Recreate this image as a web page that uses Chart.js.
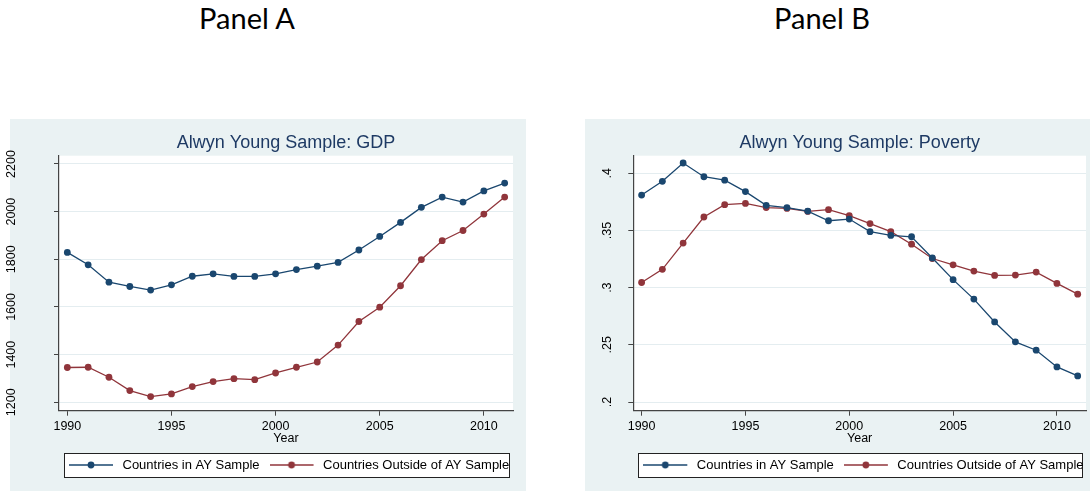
<!DOCTYPE html>
<html>
<head>
<meta charset="utf-8">
<script src="https://cdn.jsdelivr.net/npm/chart.js@4.4.1/dist/chart.umd.min.js"></script>
<style>
  body { margin: 0; width: 1090px; height: 491px; background: #fff; position: relative; overflow: hidden; }
  .panel-label { position: absolute; top: 3px; width: 200px; text-align: center;
    font-family: Lato, "Open Sans", sans-serif; font-size: 29px; line-height: 29px; color: #000; }
  .bg { position: absolute; top: 119px; height: 372px; background: #eaf2f3; }
  canvas { position: absolute; top: 119px; }
</style>
</head>
<body>
<div class="panel-label" style="left:147px">Panel A</div>
<div class="panel-label" style="left:722px">Panel B</div>
<div class="bg" style="left:10px;width:516px"></div>
<div class="bg" style="left:585px;width:505px"></div>
<canvas id="gdp" width="530" height="372" style="left:0"></canvas>
<canvas id="poverty" width="530" height="372" style="left:560px"></canvas>
<script>
const years = [1990, 1991, 1992, 1993, 1994, 1995, 1996, 1997, 1998, 1999, 2000,
  2001, 2002, 2003, 2004, 2005, 2006, 2007, 2008, 2009, 2010, 2011];

// Panel A: GDP
const gdpInSample = [1829, 1777, 1704, 1686, 1671, 1693, 1729, 1739, 1728, 1728, 1739,
  1757, 1771, 1787, 1839, 1896, 1955, 2018, 2061, 2040, 2087, 2120];
const gdpOutside = [1346, 1347, 1305, 1249, 1224, 1235, 1266, 1287, 1299, 1295, 1323,
  1347, 1369, 1440, 1539, 1599, 1689, 1799, 1878, 1921, 1990, 2061];

// Panel B: poverty
const povertyInSample = [0.381, 0.393, 0.409, 0.397, 0.394, 0.384, 0.372, 0.370, 0.367, 0.3585, 0.360,
  0.349, 0.3457, 0.3445, 0.326, 0.307, 0.290, 0.270, 0.2526, 0.2453, 0.2307, 0.2228];
const povertyOutside = [0.3045, 0.316, 0.339, 0.3618, 0.3726, 0.3737, 0.370, 0.3693, 0.3667, 0.3682, 0.363,
  0.356, 0.349, 0.338, 0.3255, 0.320, 0.3145, 0.3107, 0.311, 0.3136, 0.3037, 0.2943];

const seriesNames = ["Countries in AY Sample", "Countries Outside of AY Sample"];
const seriesColors = ["#1a476f", "#90353b"];

Chart.defaults.font.family = "'Liberation Sans', Arial, sans-serif";
Chart.defaults.color = "#000";

// line-with-dot symbol for the legend keys
const legendIcon = (color) => {
  const c = document.createElement("canvas");
  c.width = 47;
  c.height = 10;
  const ctx = c.getContext("2d");
  ctx.strokeStyle = color;
  ctx.lineWidth = 1.3;
  ctx.beginPath();
  ctx.moveTo(0, 5);
  ctx.lineTo(44, 5);
  ctx.stroke();
  ctx.fillStyle = color;
  ctx.beginPath();
  ctx.arc(22, 5, 3.4, 0, Math.PI * 2);
  ctx.fill();
  return c;
};
const icons = seriesColors.map(legendIcon);

// white plot region and the framed legend
const frame = {
  id: "frame",
  afterLayout(chart) {
    // Stata starts the keys at the plot's left edge; keep the full width so nothing wraps
    const lg = chart.legend;
    lg.left = chart.chartArea.left;
    lg.right = lg.left + lg.width;
  },
  beforeDraw(chart) {
    const { ctx, chartArea: a, legend } = chart;
    ctx.save();
    ctx.fillStyle = "#fff";
    ctx.fillRect(a.left, a.top, a.right - a.left, a.bottom - a.top);
    const cy = legend.top + 10 + 6.5;
    const x0 = Math.round(a.left + 4.5) + 0.5;
    const x1 = Math.round(a.right - 4.5) + 0.5;
    const y0 = Math.round(cy - 12) + 0.5;
    const y1 = Math.round(cy + 12) + 0.5;
    ctx.fillRect(x0, y0, x1 - x0, y1 - y0);
    ctx.strokeStyle = "#222";
    ctx.lineWidth = 1;
    ctx.strokeRect(x0, y0, x1 - x0, y1 - y0);
    ctx.restore();
  },
};

const makeChart = (id, title, inSample, outside, y) => new Chart(document.getElementById(id), {
  type: "line",
  data: {
    datasets: [inSample, outside].map((vals, i) => ({
      label: seriesNames[i],
      data: years.map((yr, j) => ({ x: yr, y: vals[j] })),
      borderColor: seriesColors[i],
      backgroundColor: seriesColors[i],
      borderWidth: 1.3,
      pointRadius: 3.4,
      pointBorderWidth: 0,
      tension: 0,
    })),
  },
  options: {
    responsive: false,
    animation: false,
    layout: { padding: { left: 0, right: y.padRight, top: 0, bottom: 9.5 } },
    plugins: {
      title: {
        display: true,
        text: title,
        fullSize: false,
        color: "#1e3a64",
        font: { size: 18, weight: "normal", lineHeight: 1.2 },
        padding: { top: 13.4, bottom: 1.7 },
      },
      legend: {
        position: "bottom",
        align: "start",
        labels: {
          usePointStyle: true,
          pointStyleWidth: 47,
          padding: 10,
          color: "#000",
          font: { size: 13 },
          generateLabels: (chart) => Chart.defaults.plugins.legend.labels.generateLabels(chart)
            .map((item, i) => ({ ...item, pointStyle: icons[i] })),
        },
      },
      tooltip: { enabled: false },
    },
    scales: {
      x: {
        type: "linear",
        min: 1989.6,
        max: 2011.4,
        title: {
          display: true,
          text: "Year",
          color: "#000",
          font: { size: 12.5, lineHeight: 1 },
          padding: { top: -4, bottom: 3.3 },
        },
        ticks: {
          stepSize: 5,
          includeBounds: false,
          maxRotation: 0,
          padding: 3,
          font: { size: 12.5 },
          callback: (v) => String(v),
        },
        grid: { drawOnChartArea: false, tickLength: 5, tickColor: "#444" },
        border: { color: "#444", width: 1.2 },
      },
      y: {
        min: y.min,
        max: y.max,
        afterFit: (scale) => { scale.width = y.axisWidth; },
        ticks: {
          stepSize: y.step,
          precision: y.precision,
          includeBounds: false,
          autoSkip: false,
          minRotation: 90,
          maxRotation: 90,
          crossAlign: "center",
          padding: y.labelPad,
          font: { size: 12.5 },
          callback: y.format,
        },
        grid: { color: "#e4edf0", tickLength: 5, tickColor: "#444" },
        border: { color: "#444", width: 1.2 },
      },
    },
  },
  plugins: [frame],
});

makeChart("gdp", "Alwyn Young Sample: GDP", gdpInSample, gdpOutside, {
  min: 1164.7, max: 2234.8, step: 200, precision: 0,
  axisWidth: 59, labelPad: 28.9, padRight: 17,
  format: (v) => String(v),
});

makeChart("poverty", "Alwyn Young Sample: Poverty", povertyInSample, povertyOutside, {
  min: 0.1924, max: 0.4154, step: 0.05, precision: 2,
  axisWidth: 73.3, labelPad: 11.9, padRight: 2.7,
  format: (v) => String(Math.round(v * 100) / 100).replace(/^0/, ""),
});
</script>
</body>
</html>
